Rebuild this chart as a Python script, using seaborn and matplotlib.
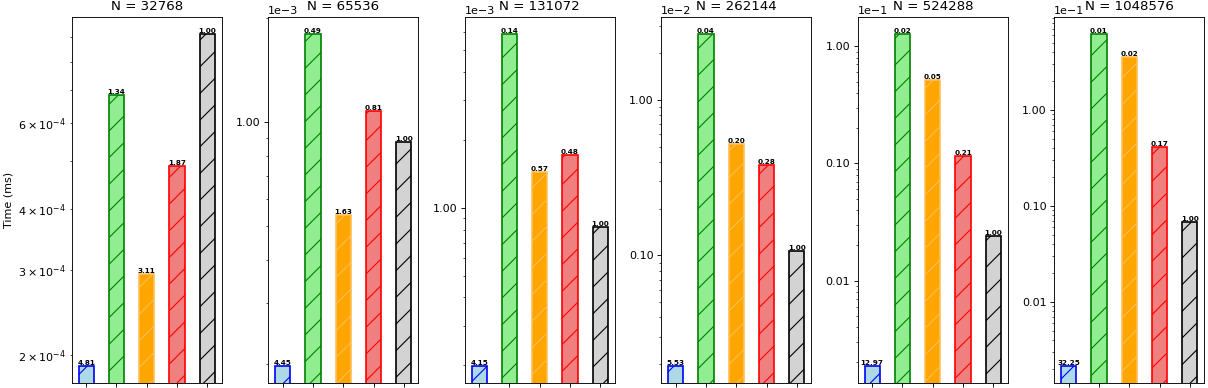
import matplotlib
matplotlib.use("Agg")
import matplotlib.pyplot as plt
from matplotlib.ticker import ScalarFormatter
import seaborn as sns
import pandas as pd

# ---- data (times in ms) ----
sizes = [32768, 65536, 131072, 262144, 524288, 1048576]
methods = ["M1", "M2", "M3", "M4", "M5"]
t_m1 = [1.90e-4, 1.974e-4, 1.98e-4, 1.935e-4, 1.85e-4, 2.124e-4]
t_m2 = [6.83e-4, 1.80e-3, 5.90e-3, 2.67e-2, 1.28e-1, 6.20e-1]
t_m3 = [2.94e-4, 5.39e-4, 1.445e-3, 5.23e-3, 5.19e-2, 3.55e-1]
t_m4 = [4.89e-4, 1.08e-3, 1.72e-3, 3.82e-3, 1.157e-2, 4.13e-2]
t_m5 = [9.14e-4, 8.79e-4, 8.22e-4, 1.07e-3, 2.40e-3, 6.85e-3]

face_colors = ["lightblue", "lightgreen", "orange", "lightcoral", "lightgray"]
edge_colors = ["blue", "green", "#ffbe55", "red", "black"]


class ForceFormat(ScalarFormatter):
    def _set_format(self):
        self.format = "%1.2f"


fig, axes = plt.subplots(1, 6, figsize=(15.1, 4.85), dpi=80)
fig.subplots_adjust(left=0.0594, right=0.9969, bottom=0.0129, top=0.956, wspace=0.31)

series = [t_m1, t_m2, t_m3, t_m4, t_m5]
for i, (ax, n) in enumerate(zip(axes, sizes)):
    vals = [s[i] for s in series]
    df = pd.DataFrame({"method": methods, "time": vals})
    ax.set_yscale("log", nonpositive="clip")
    sns.barplot(data=df, x="method", y="time", hue="method", order=methods,
                hue_order=methods, palette=face_colors, width=0.5,
                legend=False, ax=ax, saturation=1)
    ax.set_yscale("log", nonpositive="clip")
    ref = vals[-1]
    for p, ec in zip(ax.patches, edge_colors):
        p.set_edgecolor(ec)
        p.set_linewidth(1.5)
        p.set_hatch("/")
    for p, v in zip(ax.patches, vals):
        ax.text(p.get_x() + p.get_width() / 2, p.get_y() + p.get_height(),
                f"{ref / v:.2f}", ha="center", va="bottom",
                fontsize=6.5, fontweight="bold")
    ax.set_xlim(-0.475, 4.475)
    ax.relim()
    ax.autoscale(axis="y")
    fmt = ForceFormat()
    fmt.set_powerlimits((0, 0))
    ax.yaxis.set_major_formatter(fmt)
    ax.set_xticks(range(len(methods)))
    ax.set_xticklabels([])
    ax.set_xlabel("")
    ax.set_ylabel("Time (ms)" if i == 0 else "")
    ax.set_title(f"N = {n}")

fig.savefig("out.png", dpi=80)
